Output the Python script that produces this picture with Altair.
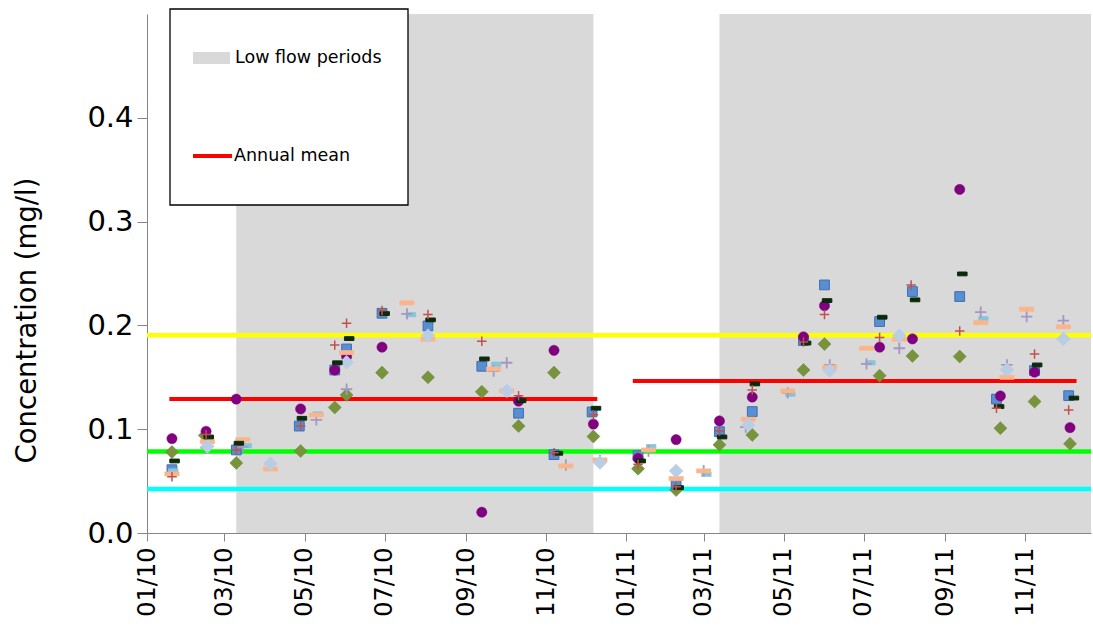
import altair as alt
import pandas as pd

FONT = "DejaVu Sans"

# ---- sample series (date, concentration in mg/l) ----
purple_dates = ["2010-01-20", "2010-02-15", "2010-03-10", "2010-04-28", "2010-05-24", "2010-06-02",
                "2010-06-29", "2010-09-13", "2010-10-11", "2010-11-07", "2010-12-07", "2011-01-10",
                "2011-02-08", "2011-03-13", "2011-04-07", "2011-05-16", "2011-06-01", "2011-07-13",
                "2011-08-07", "2011-09-12", "2011-10-13", "2011-11-08", "2011-12-05"]
purple_vals = [0.091, 0.098, 0.129, 0.1195, 0.157, 0.170, 0.179, 0.020, 0.127, 0.176, 0.105, 0.072,
               0.090, 0.108, 0.131, 0.189, 0.219, 0.179, 0.187, 0.331, 0.132, 0.155, 0.1015]

olive_dates = ["2010-01-20", "2010-02-14", "2010-03-10", "2010-04-28", "2010-05-24", "2010-06-02",
               "2010-06-29", "2010-08-03", "2010-09-13", "2010-10-11", "2010-11-07", "2010-12-07",
               "2011-01-10", "2011-02-08", "2011-03-13", "2011-04-07", "2011-05-16", "2011-06-01",
               "2011-07-13", "2011-08-07", "2011-09-12", "2011-10-13", "2011-11-08", "2011-12-05"]
olive_vals = [0.078, 0.094, 0.0675, 0.079, 0.121, 0.133, 0.1545, 0.150, 0.136, 0.103, 0.1545, 0.093,
              0.062, 0.0414, 0.085, 0.0945, 0.157, 0.182, 0.1516, 0.1706, 0.170, 0.101, 0.1266, 0.086]

blue_dates = ["2010-01-20", "2010-03-10", "2010-04-27", "2010-05-24", "2010-06-02", "2010-06-29",
              "2010-08-03", "2010-09-13", "2010-10-11", "2010-11-07", "2010-12-06", "2011-01-10",
              "2011-02-08", "2011-03-13", "2011-04-07", "2011-05-16", "2011-06-01", "2011-07-13",
              "2011-08-07", "2011-09-12", "2011-10-10", "2011-11-08", "2011-12-04"]
blue_vals = [0.061, 0.080, 0.103, 0.157, 0.1773, 0.2117, 0.1995, 0.1606, 0.1154, 0.0755, 0.1166, 0.0745,
             0.0472, 0.0976, 0.117, 0.1854, 0.239, 0.2037, 0.2326, 0.2278, 0.129, 0.1565, 0.1323]

dark_dates = ["2010-01-22", "2010-02-17", "2010-03-12", "2010-04-29", "2010-05-26", "2010-06-04",
              "2010-07-01", "2010-08-05", "2010-09-15", "2010-10-13", "2010-11-10", "2010-12-09",
              "2011-01-12", "2011-02-10", "2011-03-15", "2011-04-09", "2011-05-18", "2011-06-03",
              "2011-07-15", "2011-08-09", "2011-09-14", "2011-10-12", "2011-11-10", "2011-12-08"]
dark_vals = [0.0694, 0.0925, 0.0865, 0.1105, 0.164, 0.1873, 0.2114, 0.2053, 0.1677, 0.1275, 0.0768, 0.1202,
             0.0694, 0.0437, 0.0925, 0.1436, 0.183, 0.2239, 0.2079, 0.2246, 0.2496, 0.1218, 0.1619, 0.130]

red_dates = ["2010-01-20", "2010-02-15", "2010-03-10", "2010-04-28", "2010-05-24", "2010-06-02",
             "2010-06-29", "2010-08-03", "2010-09-13", "2010-10-11", "2010-11-07", "2010-12-07",
             "2011-01-10", "2011-02-08", "2011-03-13", "2011-04-07", "2011-05-16", "2011-06-01",
             "2011-07-13", "2011-08-06", "2011-09-12", "2011-10-10", "2011-11-08", "2011-12-04"]
red_vals = [0.0543, 0.095, 0.080, 0.103, 0.181, 0.2021, 0.2143, 0.2104, 0.1848, 0.1323, 0.0774, 0.114,
            0.0662, 0.0446, 0.0983, 0.1378, 0.184, 0.2104, 0.1883, 0.239, 0.1947, 0.1202, 0.1725, 0.1186]

orange_dates = ["2010-01-20", "2010-02-16", "2010-03-15", "2010-04-05", "2010-05-10", "2010-06-02",
                "2010-07-18", "2010-08-03", "2010-09-22", "2010-10-02", "2010-11-16", "2010-12-12",
                "2011-01-18", "2011-02-08", "2011-03-01", "2011-04-04", "2011-05-04", "2011-06-05",
                "2011-07-03", "2011-07-28", "2011-09-28", "2011-10-18", "2011-11-02", "2011-11-30"]
orange_vals = [0.0569, 0.088, 0.0899, 0.0617, 0.1137, 0.1738, 0.2217, 0.1867, 0.158, 0.137, 0.0646, 0.0704,
               0.080, 0.0524, 0.0598, 0.1096, 0.1369, 0.1597, 0.178, 0.1867, 0.2027, 0.150, 0.2156, 0.1986]

lilac_dates = ["2010-02-15", "2010-03-15", "2010-05-10", "2010-06-02", "2010-07-18", "2010-09-22",
               "2010-10-02", "2010-11-16", "2010-12-12", "2011-01-18", "2011-03-01", "2011-04-02",
               "2011-05-04", "2011-06-05", "2011-07-03", "2011-07-28", "2011-09-28", "2011-10-18",
               "2011-11-02", "2011-11-30"]
lilac_vals = [0.082, 0.083, 0.109, 0.1385, 0.2111, 0.156, 0.164, 0.0655, 0.070, 0.079, 0.060, 0.102,
              0.135, 0.162, 0.1629, 0.178, 0.2127, 0.1619, 0.2085, 0.2046]

pale_dates = ["2010-02-16", "2010-04-05", "2010-06-02", "2010-08-03", "2010-10-02", "2010-12-12",
              "2011-02-08", "2011-04-04", "2011-06-05", "2011-07-28", "2011-10-18", "2011-11-30"]
pale_vals = [0.0835, 0.0668, 0.1645, 0.1902, 0.1369, 0.0678, 0.0598, 0.1041, 0.1564, 0.1902, 0.1571, 0.187]

teal_dates = ["2010-01-21", "2010-03-18", "2010-05-11", "2010-07-21", "2010-09-24", "2011-01-20",
              "2011-03-03", "2011-05-06", "2011-07-06", "2011-09-30"]
teal_vals = [0.0598, 0.0841, 0.1147, 0.2104, 0.1626, 0.0832, 0.0566, 0.1337, 0.164, 0.2063]

# ---- reference levels, annual means, low-flow periods ----
ref_levels = [0.1905, 0.0784, 0.0424]
ref_colors = ["#FFFF00", "#00FF00", "#00FFFF"]

mean_starts = ["2010-01-18", "2011-01-06"]
mean_ends = ["2010-12-10", "2011-12-10"]
mean_vals = [0.129, 0.1465]

low_starts = ["2010-03-10", "2011-03-13"]
low_ends = ["2010-12-07", "2011-12-21"]

tick_dates = [alt.DateTime(year=2010 + i // 6, month=(i % 6) * 2 + 1, date=1) for i in range(12)]

x_scale = alt.Scale(domain=[alt.DateTime(year=2010, month=1, date=1),
                            alt.DateTime(year=2011, month=12, date=21)])
y_scale = alt.Scale(domain=[0, 0.5], nice=False, zero=True)

x_axis = alt.Axis(values=tick_dates, format="%m/%y", labelAngle=-90, labelFontSize=24,
                  labelFont=FONT, labelColor="black", labelOverlap=False, labelBound=False,
                  labelPadding=6, tickSize=8, tickColor="#868686", domainColor="#868686",
                  grid=False, title=None)
y_axis = alt.Axis(values=[0, 0.1, 0.2, 0.3, 0.4], format=".1f", labelFontSize=29, labelFont=FONT,
                  labelColor="black", labelPadding=4, tickSize=10, tickColor="#868686",
                  domainColor="#868686", grid=False, title="Concentration (mg/l)",
                  titleFont=FONT, titleFontSize=27.5, titleFontWeight="normal", titleColor="black",
                  titleAngle=270, titleX=-120, titleY=306, titleAlign="center",
                  titleBaseline="middle")


def xe(field):
    return alt.X(field, type="temporal", scale=x_scale, axis=x_axis)


def ye(field):
    return alt.Y(field, type="quantitative", scale=y_scale, axis=y_axis)


bands = alt.Chart(pd.DataFrame({"start": pd.to_datetime(low_starts),
                                "end": pd.to_datetime(low_ends)})).mark_rect(
    color="#D9D9D9").encode(x=xe("start"), x2="end:T", y=alt.datum(0), y2=alt.datum(0.5))

refs = alt.Chart(pd.DataFrame({"v": ref_levels, "c": ref_colors})).mark_rule(
    strokeWidth=4.5).encode(y=ye("v"), color=alt.Color("c:N", scale=None))

means = alt.Chart(pd.DataFrame({"start": pd.to_datetime(mean_starts),
                                "end": pd.to_datetime(mean_ends),
                                "v": mean_vals})).mark_rule(
    color="#FF0000", strokeWidth=4).encode(x=xe("start"), x2="end:T", y=ye("v"))

DASH = "M-1,-0.4L1,-0.4L1,0.4L-1,0.4Z"
PLUS = "M-1,0L1,0M0,-1L0,1"


def series(dates, vals, **mark):
    df = pd.DataFrame({"date": pd.to_datetime(dates), "conc": vals})
    return alt.Chart(df).mark_point(opacity=1, **mark).encode(x=xe("date"), y=ye("conc"))


olive = series(olive_dates, olive_vals, shape="diamond", size=170, filled=True, fill="#77933C",
               stroke="#6A8535", strokeWidth=0.5)
blue = series(blue_dates, blue_vals, shape="square", size=95, filled=True, fill="#5A8ED3",
              stroke="#3E6FAE", strokeWidth=1)
purple = series(purple_dates, purple_vals, shape="circle", size=105, filled=True, fill="#800080",
                stroke="#800080", strokeWidth=0.5)
teal = series(teal_dates, teal_vals, shape="M-1,-0.45L1,-0.45L1,0.45L-1,0.45Z", size=90, filled=True,
              fill="#86C5DA", stroke="#86C5DA", strokeWidth=0.8, strokeJoin="round")
lilac = series(lilac_dates, lilac_vals, shape=PLUS, size=130, filled=False, stroke="#A497C2",
               strokeWidth=1.8)
orange = series(orange_dates, orange_vals, shape="M-1,-0.28L1,-0.28L1,0.28L-1,0.28Z", size=200,
                filled=True, fill="#FAB68A", stroke="#FAB68A", strokeWidth=0.8, strokeJoin="round")
pale = series(pale_dates, pale_vals, shape="diamond", size=190, filled=True, fill="#B9CDE5",
              stroke="#B9CDE5", strokeWidth=0.5)
dark = series(dark_dates, dark_vals, shape=DASH, size=90, filled=True, fill="#0B2B0B",
              stroke="#0B2B0B", strokeWidth=1, strokeJoin="round")
red = series(red_dates, red_vals, shape=PLUS, size=90, filled=False, stroke="#C0504D",
             strokeWidth=1.5)

# ---- legend panel ----
one = pd.DataFrame({"k": [0]})
legend_box = alt.Chart(one).mark_rect(fill="white", stroke="black", strokeWidth=1.3).encode(
    x=alt.value(23), x2=alt.value(261), y=alt.value(-5), y2=alt.value(191))
legend_patch = alt.Chart(one).mark_rect(fill="#D9D9D9").encode(
    x=alt.value(46), x2=alt.value(83), y=alt.value(38), y2=alt.value(50))
legend_line = alt.Chart(one).mark_rule(color="#FF0000", strokeWidth=4).encode(
    x=alt.value(46), x2=alt.value(85), y=alt.value(142))
legend_text = alt.Chart(pd.DataFrame({"t": ["Low flow periods", "Annual mean"],
                                      "py": [44, 142], "px": [88, 87]})).mark_text(
    align="left", baseline="middle", font=FONT, fontSize=17.5, color="black").encode(
    x=alt.X("px:Q", scale=None), y=alt.Y("py:Q", scale=None), text="t:N")

chart = alt.layer(
    bands, refs, means,
    olive, blue, purple, teal, lilac, orange, pale, dark, red,
    legend_box, legend_patch, legend_line, legend_text,
).properties(
    width=944, height=519,
    padding={"left": 147, "top": 14, "right": 2, "bottom": 94},
    autosize=alt.AutoSizeParams(type="none"),
).configure(font=FONT).configure_view(stroke=None)

chart.save("out.html", embed_options={"renderer": "svg", "actions": False})
